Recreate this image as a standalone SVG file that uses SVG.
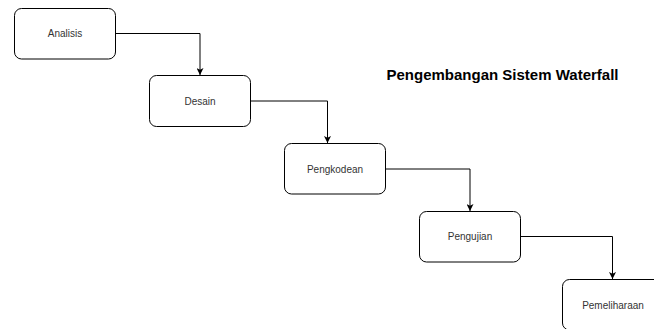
<svg xmlns="http://www.w3.org/2000/svg" width="654" height="329" viewBox="0 0 654 329">
<style>
.box{fill:#fff;stroke:#000;stroke-width:1}
.lbl{font-family:"Liberation Sans",Arial,sans-serif;font-size:10px;fill:#333;text-anchor:middle;dominant-baseline:central}
.edge{fill:none;stroke:#000;stroke-width:1}
.title{font-family:"Liberation Sans",Arial,sans-serif;font-size:15px;font-weight:bold;fill:#000}
</style>
<defs>
<marker id="arr" viewBox="0 0 10 10" refX="10" refY="5" markerWidth="7" markerHeight="7" markerUnits="userSpaceOnUse" orient="auto">
<path d="M0,0 L10,5 L0,10 L2.5,5 Z" fill="#000"/>
</marker>
</defs>
<rect width="654" height="329" fill="#fff"/>
<g id="connectors">
<path class="edge" d="M115.5,33.5 H200 V75" marker-end="url(#arr)"/>
<path class="edge" d="M250.5,101 H327.5 V143" marker-end="url(#arr)"/>
<path class="edge" d="M385.5,169 H470 V211" marker-end="url(#arr)"/>
<path class="edge" d="M520.5,236.5 H612.5 V279" marker-end="url(#arr)"/>
</g>
<g id="analisis"><rect class="box" x="14.5" y="8.5" width="101" height="50.5" rx="7"/><text class="lbl" x="65" y="33.5">Analisis</text></g>
<g id="desain"><rect class="box" x="149.5" y="75.5" width="101" height="51" rx="7"/><text class="lbl" x="200" y="101">Desain</text></g>
<g id="pengkodean"><rect class="box" x="284.5" y="143.5" width="101" height="50.5" rx="7"/><text class="lbl" x="335" y="169">Pengkodean</text></g>
<g id="pengujian"><rect class="box" x="419.5" y="211.5" width="101" height="50.5" rx="7"/><text class="lbl" x="470" y="236.5">Pengujian</text></g>
<g id="pemeliharaan"><rect class="box" x="562.5" y="279.5" width="101" height="50.5" rx="7"/><text class="lbl" x="613" y="305">Pemeliharaan</text></g>
<g id="title"><text class="title" x="386.5" y="79.5">Pengembangan Sistem Waterfall</text></g>
</svg>
